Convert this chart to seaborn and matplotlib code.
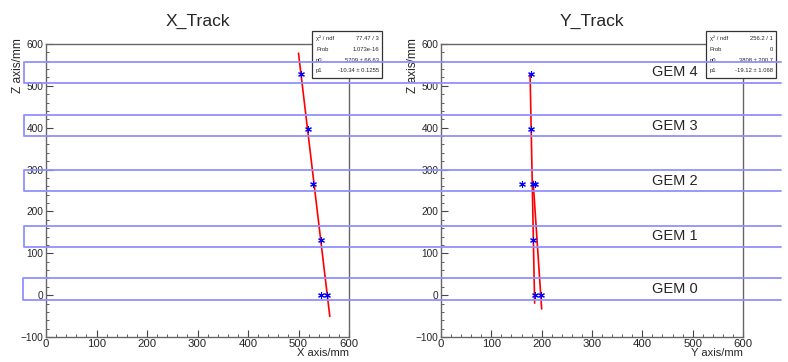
import matplotlib
matplotlib.use('Agg')
import matplotlib.pyplot as plt
import seaborn as sns
from matplotlib.lines import Line2D
from matplotlib.patches import Rectangle
from matplotlib.ticker import MultipleLocator

# hits per GEM plane (mm)
x_hits = [504, 519, 528, 544, 544, 557]
x_hits_z = [529, 397, 266, 132, 0, 0]
y_hits = [179, 178, 160, 183, 186, 182, 187, 199]
y_hits_z = [529, 397, 266, 266, 266, 132, 0, 0]

# fitted tracks (end points)
x_fit_x = [500, 562]
x_fit_z = [578, -51]
y_fit1_x = [177, 186]
y_fit1_z = [528, -19]
y_fit2_x = [183, 200]
y_fit2_z = [272, -33]

# GEM planes: z ranges
gem_names = ['GEM 0', 'GEM 1', 'GEM 2', 'GEM 3', 'GEM 4']
gem_zlo = [-11, 115, 248, 380, 507]
gem_zhi = [40, 166, 299, 430, 557]
gem_xlo = [-46, -44, -44, -44, -44]

stats_x = [['\u03c7\u00b2 / ndf', '77.47 / 3'], ['Prob', '1.073e-16'],
           ['p0', '5709 \u00b1 66.63'], ['p1', '-10.34 \u00b1 0.1255']]
stats_y = [['\u03c7\u00b2 / ndf', '256.2 / 1'], ['Prob', '0'],
           ['p0', '3808 \u00b1 200.7'], ['p1', '-19.12 \u00b1 1.068']]

sns.set_style('ticks')
plt.rcParams['font.family'] = ['Liberation Sans', 'DejaVu Sans']

W, H = 788, 362
fig = plt.figure(figsize=(W / 100, H / 100), dpi=100)
ax1 = fig.add_axes([46 / W, 25 / H, 303 / W, 293 / H])
ax2 = fig.add_axes([441 / W, 25 / H, 302 / W, 293 / H])

frame = '#666666'
for ax, title, xl in [(ax1, 'X_Track', 'X axis/mm'), (ax2, 'Y_Track', 'Y axis/mm')]:
    ax.set_facecolor('none')
    ax.set_xlim(0, 600)
    ax.set_ylim(-100, 600)
    ax.xaxis.set_major_locator(MultipleLocator(100))
    ax.xaxis.set_minor_locator(MultipleLocator(20))
    ax.yaxis.set_major_locator(MultipleLocator(100))
    ax.yaxis.set_minor_locator(MultipleLocator(20))
    ax.tick_params(which='both', direction='in', color='#444444', pad=2)
    ax.tick_params(axis='x', labelsize=8.2, pad=1.5)
    ax.tick_params(axis='y', labelsize=7.3)
    ax.tick_params(which='major', length=5)
    ax.tick_params(which='minor', length=2.5)
    for s in ax.spines.values():
        s.set_visible(True)
        s.set_color(frame)
        s.set_linewidth(1)
    ax.set_title(title, fontsize=12.6, pad=13)
    ax.set_xlabel(xl, fontsize=8.0, loc='right', labelpad=-0.5)
    ax.set_ylabel('Z axis/mm', fontsize=8.6, loc='top')
    ax.yaxis.set_label_coords(-0.072, 1.02)

star = (6, 2, 0)
sns.lineplot(x=x_fit_x, y=x_fit_z, ax=ax1, color='red', lw=1.2, sort=False, estimator=None)
sns.scatterplot(x=x_hits, y=x_hits_z, ax=ax1, marker=star, s=18, color='blue', linewidth=0.8, zorder=3)

sns.lineplot(x=y_fit1_x, y=y_fit1_z, ax=ax2, color='red', lw=1.2, sort=False, estimator=None)
sns.lineplot(x=y_fit2_x, y=y_fit2_z, ax=ax2, color='red', lw=1.2, sort=False, estimator=None)
sns.scatterplot(x=y_hits, y=y_hits_z, ax=ax2, marker=star, s=18, color='blue', linewidth=0.8, zorder=3)

for name, lo, hi in zip(gem_names, gem_zlo, gem_zhi):
    ax2.text(464, (lo + hi) / 2, name, fontsize=10.5, ha='center', va='center')

# stats boxes (figure level, under the GEM outlines)
def stats_box(x0, rows):
    x0f, wf = x0 / W, 70 / W
    y0f, hf = (H - 77.5) / H, 46.5 / H
    fig.add_artist(Rectangle((x0f, y0f), wf, hf, transform=fig.transFigure,
                             facecolor='white', edgecolor='#333333', lw=0.9, zorder=1))
    for i, (k, v) in enumerate(rows):
        yy = (H - (38.5 + i * 10.8)) / H
        fig.text(x0f + 4 / W, yy, k, fontsize=4.2, va='center', ha='left', zorder=1.5)
        fig.text(x0f + wf - 3 / W, yy, v, fontsize=4.2, va='center', ha='right', zorder=1.5)

stats_box(312, stats_x)
stats_box(706, stats_y)

# GEM plane outlines spanning both pads
for xl, lo, hi in zip(gem_xlo, gem_zlo, gem_zhi):
    fig.add_artist(Line2D([1455, xl, xl, 1455], [hi, hi, lo, lo], transform=ax1.transData,
                          color='#9090ff', lw=1.3, zorder=2))

fig.savefig('out.png', dpi=100)
